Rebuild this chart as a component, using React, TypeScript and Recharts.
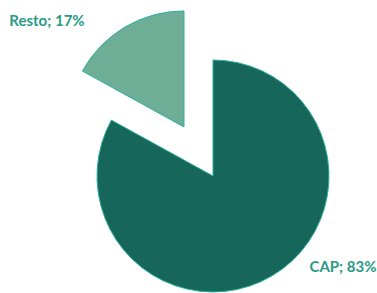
import { Pie, PieChart, Sector } from "recharts";

const SHARE_NAMES = ["CAP", "Resto"];
const SHARE_VALUES = [83, 17];
const SHARE_COLORS = ["#17665a", "#6fae96"];
const EXPLODE = [0, 57];

const LABEL_OFFSET: Record<string, [number, number]> = {
  CAP: [130, 96],
  Resto: [-166, -150],
};

const data = SHARE_NAMES.map((name, i) => ({
  name,
  value: SHARE_VALUES[i],
  fill: SHARE_COLORS[i],
  explode: EXPLODE[i],
}));

const RAD = Math.PI / 180;

function ExplodedSlice(props: any) {
  const { cx, cy, midAngle, payload } = props;
  const off = payload?.explode ?? 0;
  const dx = off * Math.cos(-midAngle * RAD);
  const dy = off * Math.sin(-midAngle * RAD);
  return (
    <Sector
      {...props}
      cx={cx + dx}
      cy={cy + dy}
      fill={payload.fill}
      stroke="#2bb0a0"
      strokeWidth={1}
    />
  );
}

function renderLabel(props: any) {
  const { cx, cy, name, value } = props;
  const [ox, oy] = LABEL_OFFSET[name] ?? [0, 0];
  return (
    <text
      x={cx + ox}
      y={cy + oy}
      textAnchor="middle"
      fill="#2a9a86"
      fontFamily="Lato, 'Open Sans', sans-serif"
      fontWeight={700}
      fontSize={15}
    >
      {`${name}; ${value}%`}
    </text>
  );
}

export default function App() {
  return (
    <div style={{ position: "absolute", left: 0, top: 0, background: "#fff" }}>
      <PieChart width={377} height={293} margin={{ top: 0, right: 0, bottom: 0, left: 0 }}>
        <Pie
          data={data}
          dataKey="value"
          nameKey="name"
          cx={213}
          cy={176}
          outerRadius={116}
          startAngle={90}
          endAngle={-270}
          shape={ExplodedSlice}
          label={renderLabel}
          labelLine={false}
          isAnimationActive={false}
        />
      </PieChart>
    </div>
  );
}
